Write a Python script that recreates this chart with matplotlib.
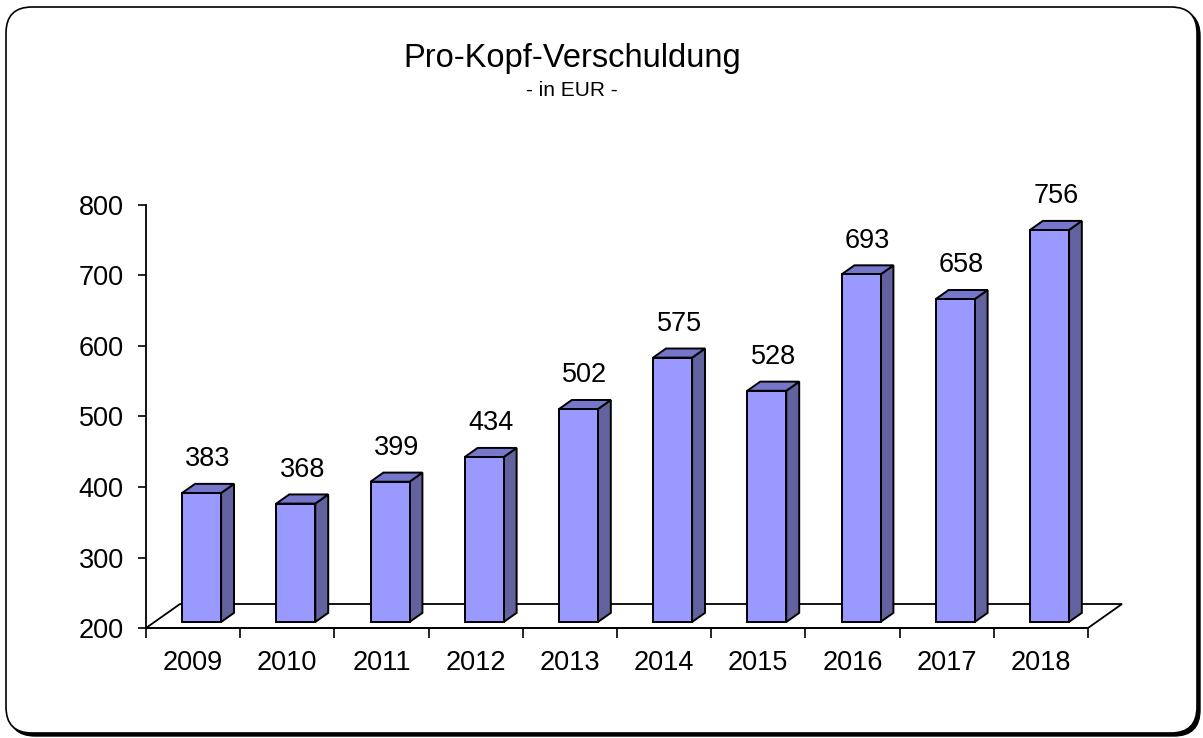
import numpy as np
import matplotlib
matplotlib.use("Agg")
import matplotlib.pyplot as plt
from matplotlib.patches import Polygon, FancyBboxPatch

plt.rcParams['font.family'] = ['Liberation Sans', 'DejaVu Sans']

# Daten
jahre = ['2009', '2010', '2011', '2012', '2013', '2014', '2015', '2016', '2017', '2018']
werte = [383, 368, 399, 434, 502, 575, 528, 693, 658, 756]
y_ticks = [200, 300, 400, 500, 600, 700, 800]

titel = 'Pro-Kopf-Verschuldung'
untertitel = '- in EUR -'

# Farben
c_front = '#9999FF'
c_top = '#7676CA'
c_side = '#62629E'

W, H = 1203, 738
fig = plt.figure(figsize=(W / 100, H / 100), dpi=100)

# Rahmen mit Schatten (Pixelkoordinaten)
bg = fig.add_axes([0, 0, 1, 1], zorder=0)
bg.set_xlim(0, W)
bg.set_ylim(H, 0)
bg.axis('off')
schatten = FancyBboxPatch((9, 10), 1191, 726, boxstyle="round,pad=0,rounding_size=26",
                          facecolor='black', edgecolor='black', lw=1)
bg.add_patch(schatten)
rahmen = FancyBboxPatch((6, 7), 1191, 726, boxstyle="round,pad=0,rounding_size=26",
                        facecolor='white', edgecolor='black', lw=1.2)
bg.add_patch(rahmen)

fig.text(572 / W, 1 - 58 / H, titel, ha='center', va='center', fontsize=23.5)
fig.text(572 / W, 1 - 90 / H, untertitel, ha='center', va='center', fontsize=15)

# Diagramm-Achse
x0, x1 = 146, 1088
y0, y1 = 628, 205
ax = fig.add_axes([x0 / W, 1 - y0 / H, (x1 - x0) / W, (y0 - y1) / H], zorder=1)
ax.patch.set_alpha(0)
n = len(jahre)
ax.set_xlim(-0.5, n - 0.5)
ax.set_ylim(200, 800)

px_x = (x1 - x0) / n          # Pixel pro Kategorie
px_y = (y0 - y1) / 600.0      # Pixel pro Wert-Einheit

# 3D-Tiefe des Bodens
fdx = 34 / px_x
fdy = 24 / px_y
d0, d1 = 0.25, 0.63
bw = 39 / px_x

boden = Polygon([(-0.5, 200), (n - 0.5, 200), (n - 0.5 + fdx, 200 + fdy), (-0.5 + fdx, 200 + fdy)],
                closed=True, facecolor='white', edgecolor='black', lw=1.3, clip_on=False, zorder=1)
ax.add_patch(boden)

for i, v in enumerate(werte):
    xl = i - bw / 2 + d0 * fdx
    xr = i + bw / 2 + d0 * fdx
    yb = 200 + d0 * fdy
    yt = v + d0 * fdy
    ddx = (d1 - d0) * fdx
    ddy = (d1 - d0) * fdy
    front = Polygon([(xl, yb), (xr, yb), (xr, yt), (xl, yt)], closed=True,
                    facecolor=c_front, edgecolor='black', lw=1.4, clip_on=False, zorder=3)
    seite = Polygon([(xr, yb), (xr + ddx, yb + ddy), (xr + ddx, yt + ddy), (xr, yt)], closed=True,
                    facecolor=c_side, edgecolor='black', lw=1.4, clip_on=False, zorder=2)
    deckel = Polygon([(xl, yt), (xr, yt), (xr + ddx, yt + ddy), (xl + ddx, yt + ddy)], closed=True,
                     facecolor=c_top, edgecolor='black', lw=1.4, clip_on=False, zorder=2)
    for p in (seite, deckel, front):
        ax.add_patch(p)
    ax.text(i + d0 * fdx + ddx / 2, yt + 48, str(v), ha='center', va='center',
            fontsize=19.5, clip_on=False)

# Achsen
for s in ('top', 'right'):
    ax.spines[s].set_visible(False)
ax.spines['left'].set_linewidth(1.3)
ax.spines['bottom'].set_linewidth(1.3)
ax.set_yticks(y_ticks)
ax.set_yticklabels([str(t) for t in y_ticks])
ax.set_xticks(range(n))
ax.set_xticklabels(jahre)
ax.set_xticks(np.arange(-0.5, n), minor=True)
ax.tick_params(axis='x', which='major', length=0, pad=16, labelsize=19.5)
ax.tick_params(axis='x', which='minor', length=7, width=1.2, direction='out')
ax.tick_params(axis='y', which='major', length=6, width=1.2, pad=10, labelsize=19.5)

fig.savefig('out.png', dpi=100)
